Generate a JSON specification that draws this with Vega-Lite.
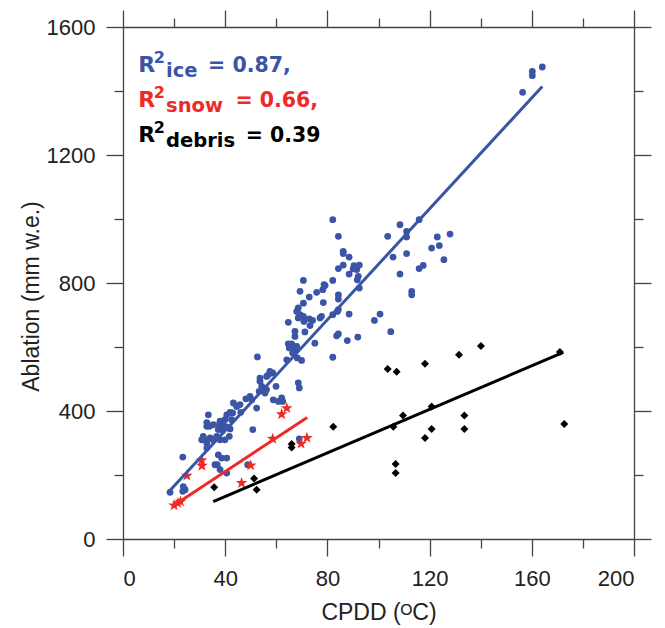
{
  "$schema": "https://vega.github.io/schema/vega-lite/v6.json",
  "width": 511,
  "height": 512,
  "autosize": {"type": "none"},
  "padding": {"left": 123, "top": 27, "right": 31, "bottom": 89},
  "background": "white",
  "config": {
    "view": {"stroke": null},
    "font": "Liberation Sans",
    "axis": {
      "domainColor": "#444444",
      "tickColor": "#444444",
      "labelColor": "#222222",
      "titleColor": "#222222",
      "labelFont": "Liberation Sans",
      "titleFont": "Liberation Sans",
      "labelFontSize": 22,
      "titleFontSize": 23,
      "titleFontWeight": "normal",
      "grid": false,
      "domainWidth": 1.3,
      "tickWidth": 1.3
    }
  },
  "datasets": {
    "ice": [
      {"cpdd": 156.4, "abl": 1396}, {"cpdd": 160.2, "abl": 1461}, {"cpdd": 160.2, "abl": 1448}, {"cpdd": 164.1, "abl": 1475},
      {"cpdd": 103.6, "abl": 946}, {"cpdd": 108.4, "abl": 982}, {"cpdd": 111, "abl": 961}, {"cpdd": 111, "abl": 944},
      {"cpdd": 105.7, "abl": 881}, {"cpdd": 111, "abl": 892}, {"cpdd": 108.4, "abl": 828}, {"cpdd": 113, "abl": 774},
      {"cpdd": 113, "abl": 763}, {"cpdd": 115.9, "abl": 998}, {"cpdd": 115.9, "abl": 845}, {"cpdd": 117.5, "abl": 855},
      {"cpdd": 120.8, "abl": 909}, {"cpdd": 123, "abl": 944}, {"cpdd": 123.8, "abl": 917}, {"cpdd": 125.6, "abl": 873},
      {"cpdd": 128, "abl": 953}, {"cpdd": 98.4, "abl": 683}, {"cpdd": 100.6, "abl": 703}, {"cpdd": 104.8, "abl": 648},
      {"cpdd": 82.1, "abl": 998}, {"cpdd": 84.3, "abl": 946}, {"cpdd": 86.2, "abl": 899}, {"cpdd": 86.2, "abl": 892},
      {"cpdd": 88.5, "abl": 881}, {"cpdd": 86.2, "abl": 856}, {"cpdd": 84.3, "abl": 845}, {"cpdd": 90.4, "abl": 854},
      {"cpdd": 92.5, "abl": 856}, {"cpdd": 90.1, "abl": 844}, {"cpdd": 91.5, "abl": 842}, {"cpdd": 88.5, "abl": 828},
      {"cpdd": 92.1, "abl": 821}, {"cpdd": 91.7, "abl": 810}, {"cpdd": 92.5, "abl": 784}, {"cpdd": 82.1, "abl": 808},
      {"cpdd": 84.3, "abl": 763}, {"cpdd": 84.3, "abl": 750}, {"cpdd": 83.9, "abl": 711}, {"cpdd": 82.1, "abl": 701},
      {"cpdd": 88.5, "abl": 703}, {"cpdd": 83.6, "abl": 635}, {"cpdd": 84.3, "abl": 641}, {"cpdd": 87.8, "abl": 620},
      {"cpdd": 91.9, "abl": 631}, {"cpdd": 82.1, "abl": 568}, {"cpdd": 84.3, "abl": 717},
      {"cpdd": 70.6, "abl": 808}, {"cpdd": 78.7, "abl": 795}, {"cpdd": 78.2, "abl": 779}, {"cpdd": 79.1, "abl": 792},
      {"cpdd": 69.3, "abl": 774}, {"cpdd": 72.9, "abl": 756}, {"cpdd": 75.8, "abl": 771}, {"cpdd": 78.4, "abl": 739},
      {"cpdd": 70.6, "abl": 737}, {"cpdd": 68.6, "abl": 722}, {"cpdd": 68, "abl": 711}, {"cpdd": 69.3, "abl": 701},
      {"cpdd": 70.6, "abl": 696}, {"cpdd": 68.6, "abl": 691}, {"cpdd": 70.8, "abl": 680}, {"cpdd": 72.9, "abl": 688},
      {"cpdd": 74.2, "abl": 683}, {"cpdd": 73.2, "abl": 667}, {"cpdd": 77.1, "abl": 691}, {"cpdd": 77.7, "abl": 696},
      {"cpdd": 64.7, "abl": 677}, {"cpdd": 67.3, "abl": 649}, {"cpdd": 67.3, "abl": 633}, {"cpdd": 71.2, "abl": 647},
      {"cpdd": 64.7, "abl": 610}, {"cpdd": 66, "abl": 610}, {"cpdd": 66.7, "abl": 602}, {"cpdd": 68, "abl": 602},
      {"cpdd": 65.1, "abl": 597}, {"cpdd": 67.3, "abl": 592}, {"cpdd": 66.4, "abl": 581}, {"cpdd": 75.1, "abl": 612},
      {"cpdd": 52.6, "abl": 569}, {"cpdd": 64.1, "abl": 560}, {"cpdd": 69.9, "abl": 558}, {"cpdd": 68.2, "abl": 566},
      {"cpdd": 57.5, "abl": 524}, {"cpdd": 58.6, "abl": 519}, {"cpdd": 56.9, "abl": 513}, {"cpdd": 53.6, "abl": 503},
      {"cpdd": 56.2, "abl": 508}, {"cpdd": 53.6, "abl": 493}, {"cpdd": 54.3, "abl": 477}, {"cpdd": 53.3, "abl": 461},
      {"cpdd": 55.6, "abl": 456}, {"cpdd": 56.2, "abl": 467}, {"cpdd": 59.9, "abl": 477}, {"cpdd": 58.8, "abl": 435},
      {"cpdd": 60.8, "abl": 430}, {"cpdd": 62.1, "abl": 441}, {"cpdd": 62.5, "abl": 430}, {"cpdd": 68.6, "abl": 488},
      {"cpdd": 69, "abl": 472}, {"cpdd": 49.7, "abl": 446}, {"cpdd": 50.4, "abl": 435}, {"cpdd": 48.1, "abl": 438},
      {"cpdd": 52.3, "abl": 409}, {"cpdd": 50.8, "abl": 342}, {"cpdd": 69, "abl": 313}, {"cpdd": 48.8, "abl": 232},
      {"cpdd": 45.8, "abl": 420}, {"cpdd": 44.5, "abl": 414}, {"cpdd": 46.1, "abl": 396}, {"cpdd": 43.2, "abl": 425},
      {"cpdd": 42.9, "abl": 394}, {"cpdd": 41.9, "abl": 396}, {"cpdd": 40.6, "abl": 388}, {"cpdd": 39.9, "abl": 373},
      {"cpdd": 42.5, "abl": 373}, {"cpdd": 38, "abl": 368}, {"cpdd": 37.7, "abl": 357}, {"cpdd": 39.3, "abl": 354},
      {"cpdd": 37.3, "abl": 342}, {"cpdd": 39, "abl": 339}, {"cpdd": 40.6, "abl": 350}, {"cpdd": 41.9, "abl": 344},
      {"cpdd": 41.6, "abl": 321}, {"cpdd": 38, "abl": 310}, {"cpdd": 39.9, "abl": 310}, {"cpdd": 36.7, "abl": 321},
      {"cpdd": 33.4, "abl": 388}, {"cpdd": 32.8, "abl": 364}, {"cpdd": 32.8, "abl": 352}, {"cpdd": 33.8, "abl": 352},
      {"cpdd": 35.3, "abl": 357}, {"cpdd": 31.4, "abl": 321}, {"cpdd": 30.8, "abl": 310}, {"cpdd": 32.1, "abl": 310},
      {"cpdd": 32.8, "abl": 300}, {"cpdd": 34.1, "abl": 316}, {"cpdd": 35.3, "abl": 310}, {"cpdd": 32.8, "abl": 284},
      {"cpdd": 37.3, "abl": 263}, {"cpdd": 36, "abl": 232}, {"cpdd": 36.9, "abl": 232}, {"cpdd": 38.6, "abl": 253},
      {"cpdd": 40.6, "abl": 253}, {"cpdd": 38, "abl": 217}, {"cpdd": 40.6, "abl": 206},
      {"cpdd": 23.4, "abl": 256}, {"cpdd": 23.6, "abl": 164}, {"cpdd": 24.3, "abl": 154}, {"cpdd": 23.4, "abl": 149},
      {"cpdd": 18.4, "abl": 146}
    ],
    "snow": [
      {"cpdd": 20, "abl": 105}, {"cpdd": 21.5, "abl": 112}, {"cpdd": 22.5, "abl": 117}, {"cpdd": 25, "abl": 198},
      {"cpdd": 30.8, "abl": 246}, {"cpdd": 30.9, "abl": 229}, {"cpdd": 46.4, "abl": 175}, {"cpdd": 50, "abl": 230},
      {"cpdd": 58.6, "abl": 313}, {"cpdd": 62.1, "abl": 390}, {"cpdd": 64.1, "abl": 409}, {"cpdd": 69.7, "abl": 298},
      {"cpdd": 72, "abl": 316}
    ],
    "debris": [
      {"cpdd": 35.7, "abl": 162}, {"cpdd": 51.3, "abl": 189}, {"cpdd": 52.3, "abl": 154}, {"cpdd": 66, "abl": 297},
      {"cpdd": 66, "abl": 286}, {"cpdd": 82.3, "abl": 351}, {"cpdd": 103.6, "abl": 531}, {"cpdd": 107.1, "abl": 523},
      {"cpdd": 105.8, "abl": 351}, {"cpdd": 106.7, "abl": 234}, {"cpdd": 106.7, "abl": 206}, {"cpdd": 109.6, "abl": 386},
      {"cpdd": 118.2, "abl": 548}, {"cpdd": 118.2, "abl": 316}, {"cpdd": 120.8, "abl": 414}, {"cpdd": 120.8, "abl": 344},
      {"cpdd": 131.5, "abl": 576}, {"cpdd": 133.6, "abl": 386}, {"cpdd": 133.6, "abl": 344}, {"cpdd": 140.1, "abl": 603},
      {"cpdd": 171, "abl": 584}, {"cpdd": 172.7, "abl": 359}
    ],
    "fits": [
      {"series": "ice", "cpdd": 18.1, "abl": 149}, {"series": "ice", "cpdd": 164.1, "abl": 1414},
      {"series": "snow", "cpdd": 21.5, "abl": 113}, {"series": "snow", "cpdd": 72.1, "abl": 380},
      {"series": "debris", "cpdd": 35.3, "abl": 117}, {"series": "debris", "cpdd": 172.3, "abl": 583}
    ],
    "ann": [
      {"series": "ice", "sub": "ice", "val": "= 0.87,", "ax": 6, "ay": 1460, "vx": 33.3},
      {"series": "snow", "sub": "snow", "val": "= 0.66,", "ax": 6, "ay": 1351, "vx": 44.0},
      {"series": "debris", "sub": "debris", "val": "= 0.39", "ax": 6, "ay": 1242, "vx": 48.0}
    ]
  },
  "layer": [
    {
      "data": {"name": "ice"},
      "mark": {"type": "point", "filled": true, "shape": "circle", "size": 46, "color": "#3a55a6", "opacity": 1},
      "encoding": {
        "x": {"field": "cpdd", "type": "quantitative", "scale": {"domain": [0, 200], "nice": false},
              "axis": {"orient": "bottom", "values": [0, 40, 80, 120, 160, 200], "tickSize": 17, "labelPadding": 12, "title": "CPDD (ᴼC)", "titlePadding": 12}},
        "y": {"field": "abl", "type": "quantitative", "scale": {"domain": [0, 1600], "nice": false},
              "axis": {"orient": "left", "values": [0, 400, 800, 1200, 1600], "format": "d", "tickSize": 17, "labelPadding": 11, "title": "Ablation (mm w.e.)", "titlePadding": 3, "titleY": 269}}
      }
    },
    {
      "data": {"name": "debris"},
      "mark": {"type": "point", "filled": true, "shape": "diamond", "size": 64, "color": "#000000", "opacity": 1},
      "encoding": {
        "x": {"field": "cpdd", "type": "quantitative",
              "axis": {"orient": "bottom", "values": [20, 60, 100, 140, 180], "tickSize": 9, "labels": false, "domain": false, "title": null}},
        "y": {"field": "abl", "type": "quantitative",
              "axis": {"orient": "left", "values": [200, 600, 1000, 1400], "tickSize": 9, "labels": false, "domain": false, "title": null}}
      }
    },
    {
      "data": {"name": "snow"},
      "mark": {"type": "point", "filled": true, "shape": "M0,-1L0.235,-0.324L0.951,-0.309L0.380,0.124L0.588,0.809L0,0.4L-0.588,0.809L-0.380,0.124L-0.951,-0.309L-0.235,-0.324Z", "size": 150, "color": "#ee2a26", "opacity": 1},
      "encoding": {
        "x": {"field": "cpdd", "type": "quantitative",
              "axis": {"orient": "top", "values": [0, 40, 80, 120, 160, 200], "tickSize": 17, "labels": false, "title": null}},
        "y": {"field": "abl", "type": "quantitative",
              "axis": {"orient": "right", "values": [0, 400, 800, 1200, 1600], "tickSize": 17, "labels": false, "title": null}}
      }
    },
    {
      "data": {"name": "fits"},
      "mark": {"type": "line", "strokeWidth": 3},
      "encoding": {
        "x": {"field": "cpdd", "type": "quantitative",
              "axis": {"orient": "top", "values": [20, 60, 100, 140, 180], "tickSize": 9, "labels": false, "domain": false, "title": null}},
        "y": {"field": "abl", "type": "quantitative",
              "axis": {"orient": "right", "values": [200, 600, 1000, 1400], "tickSize": 9, "labels": false, "domain": false, "title": null}},
        "color": {"field": "series", "type": "nominal", "scale": {"domain": ["ice", "snow", "debris"], "range": ["#3a55a6", "#ee2a26", "#000000"]}, "legend": null}
      }
    },
    {
      "data": {"name": "ann"},
      "mark": {"type": "text", "text": "R", "align": "left", "baseline": "alphabetic", "font": "DejaVu Sans", "fontSize": 22, "fontWeight": "bold"},
      "encoding": {
        "x": {"field": "ax", "type": "quantitative", "axis": null},
        "y": {"field": "ay", "type": "quantitative", "axis": null},
        "color": {"field": "series", "type": "nominal", "scale": {"domain": ["ice", "snow", "debris"], "range": ["#3a55a6", "#ee2a26", "#000000"]}, "legend": null}
      }
    },
    {
      "data": {"name": "ann"},
      "mark": {"type": "text", "text": "2", "align": "left", "baseline": "alphabetic", "dx": 15.5, "dy": -8.5, "font": "DejaVu Sans", "fontSize": 16, "fontWeight": "bold"},
      "encoding": {
        "x": {"field": "ax", "type": "quantitative", "axis": null},
        "y": {"field": "ay", "type": "quantitative", "axis": null},
        "color": {"field": "series", "type": "nominal", "scale": {"domain": ["ice", "snow", "debris"], "range": ["#3a55a6", "#ee2a26", "#000000"]}, "legend": null}
      }
    },
    {
      "data": {"name": "ann"},
      "mark": {"type": "text", "align": "left", "baseline": "alphabetic", "dx": 27.7, "dy": 5.5, "font": "DejaVu Sans", "fontSize": 19.5, "fontWeight": "bold"},
      "encoding": {
        "x": {"field": "ax", "type": "quantitative", "axis": null},
        "y": {"field": "ay", "type": "quantitative", "axis": null},
        "text": {"field": "sub"},
        "color": {"field": "series", "type": "nominal", "scale": {"domain": ["ice", "snow", "debris"], "range": ["#3a55a6", "#ee2a26", "#000000"]}, "legend": null}
      }
    },
    {
      "data": {"name": "ann"},
      "mark": {"type": "text", "align": "left", "baseline": "alphabetic", "font": "DejaVu Sans", "fontSize": 20.5, "fontWeight": "bold"},
      "encoding": {
        "x": {"field": "vx", "type": "quantitative", "axis": null},
        "y": {"field": "ay", "type": "quantitative", "axis": null},
        "text": {"field": "val"},
        "color": {"field": "series", "type": "nominal", "scale": {"domain": ["ice", "snow", "debris"], "range": ["#3a55a6", "#ee2a26", "#000000"]}, "legend": null}
      }
    }
  ],
  "resolve": {"axis": {"x": "independent", "y": "independent"}}
}
